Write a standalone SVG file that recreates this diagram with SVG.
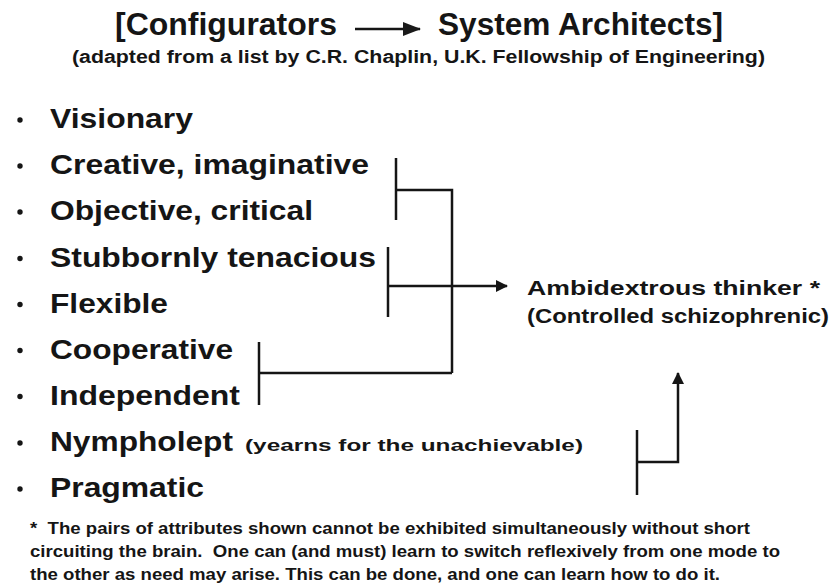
<svg xmlns="http://www.w3.org/2000/svg" width="833" height="585" viewBox="0 0 833 585">
<defs>
<marker id="ah" viewBox="0 0 12 12" refX="11" refY="6" markerWidth="12" markerHeight="12" markerUnits="userSpaceOnUse" orient="auto">
<path d="M0,0 L12,6 L0,12 Z" fill="#151515"/>
</marker>
<marker id="ahT" viewBox="0 0 18 14" refX="17" refY="7" markerWidth="18" markerHeight="14" markerUnits="userSpaceOnUse" orient="auto">
<path d="M0,0 L18,7 L0,14 Z" fill="#1a1a1a"/>
</marker>
<style>
text{font-family:"Liberation Sans",Arial,sans-serif;fill:#151515;font-weight:bold;white-space:pre}
.t{font-size:32px}
.sub{font-size:18px}
.item{font-size:28px}
.small{font-size:17px}
.right{font-size:20px}
.foot{font-size:17px}
.ln{stroke:#151515;stroke-width:2.5;fill:none}
.dot{fill:#151515}
</style>
</defs>
<rect width="833" height="585" fill="#ffffff"/>
<g id="title">
<text class="t" x="115" y="35" textLength="222" lengthAdjust="spacingAndGlyphs">[Configurators</text>
<line class="ln" x1="355" y1="29" x2="420" y2="29" stroke-width="3" marker-end="url(#ahT)"/>
<text class="t" x="438" y="35" textLength="285" lengthAdjust="spacingAndGlyphs">System Architects]</text>
</g>
<g id="subtitle">
<text class="sub" x="72" y="63" textLength="693" lengthAdjust="spacingAndGlyphs">(adapted from a list by C.R. Chaplin, U.K. Fellowship of Engineering)</text>
</g>
<g id="visionary"><circle class="dot" cx="20" cy="120" r="2.7"/><text class="item" x="50" y="128" textLength="143" lengthAdjust="spacingAndGlyphs">Visionary</text></g>
<g id="creative"><circle class="dot" cx="20" cy="166" r="2.7"/><text class="item" x="50" y="174" textLength="319" lengthAdjust="spacingAndGlyphs">Creative, imaginative</text></g>
<g id="objective"><circle class="dot" cx="20" cy="212" r="2.7"/><text class="item" x="50" y="220" textLength="263" lengthAdjust="spacingAndGlyphs">Objective, critical</text></g>
<g id="stubbornly"><circle class="dot" cx="20" cy="258.5" r="2.7"/><text class="item" x="50" y="266.5" textLength="326" lengthAdjust="spacingAndGlyphs">Stubbornly tenacious</text></g>
<g id="flexible"><circle class="dot" cx="20" cy="304.5" r="2.7"/><text class="item" x="50" y="312.5" textLength="118" lengthAdjust="spacingAndGlyphs">Flexible</text></g>
<g id="cooperative"><circle class="dot" cx="20" cy="350.5" r="2.7"/><text class="item" x="50" y="358.5" textLength="183" lengthAdjust="spacingAndGlyphs">Cooperative</text></g>
<g id="independent"><circle class="dot" cx="20" cy="396.5" r="2.7"/><text class="item" x="50" y="404.5" textLength="190" lengthAdjust="spacingAndGlyphs">Independent</text></g>
<g id="nympholept"><circle class="dot" cx="20" cy="443" r="2.7"/><text class="item" x="50" y="451" textLength="183" lengthAdjust="spacingAndGlyphs">Nympholept</text><text class="small" x="245" y="451" textLength="338" lengthAdjust="spacingAndGlyphs">(yearns for the unachievable)</text></g>
<g id="pragmatic"><circle class="dot" cx="20" cy="489" r="2.7"/><text class="item" x="50" y="497" textLength="154" lengthAdjust="spacingAndGlyphs">Pragmatic</text></g>
<g id="ambidextrous">
<text class="right" x="527" y="295" textLength="293" lengthAdjust="spacingAndGlyphs">Ambidextrous thinker *</text>
<text class="right" x="527" y="323" textLength="302" lengthAdjust="spacingAndGlyphs">(Controlled schizophrenic)</text>
</g>
<g id="footnote">
<text class="foot" x="30" y="534" textLength="720" lengthAdjust="spacingAndGlyphs">*  The pairs of attributes shown cannot be exhibited simultaneously without short</text>
<text class="foot" x="30" y="557" textLength="750" lengthAdjust="spacingAndGlyphs">circuiting the brain.  One can (and must) learn to switch reflexively from one mode to</text>
<text class="foot" x="30" y="580" textLength="690" lengthAdjust="spacingAndGlyphs">the other as need may arise. This can be done, and one can learn how to do it.</text>
</g>
<g id="connectors">
<line class="ln" x1="396" y1="158" x2="396" y2="220"/>
<polyline class="ln" points="396,190 452,190 452,373"/>
<line class="ln" x1="388" y1="247" x2="388" y2="317"/>
<line class="ln" x1="388" y1="286" x2="507" y2="286" marker-end="url(#ah)"/>
<line class="ln" x1="259" y1="342" x2="259" y2="405"/>
<line class="ln" x1="259" y1="373" x2="452" y2="373"/>
<line class="ln" x1="637" y1="430" x2="637" y2="495"/>
<polyline class="ln" points="637,462 678,462 678,373" marker-end="url(#ah)"/>
</g>
</svg>
